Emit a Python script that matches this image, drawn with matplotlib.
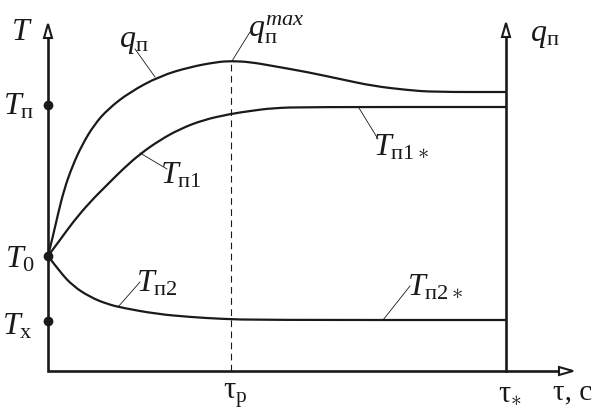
import matplotlib
matplotlib.use("Agg")
import matplotlib.pyplot as plt
from matplotlib.patches import Polygon, PathPatch
from matplotlib.path import Path

plt.rcParams["mathtext.fontset"] = "custom"
plt.rcParams["mathtext.rm"] = "Liberation Serif"
plt.rcParams["mathtext.it"] = "Liberation Serif:italic"
plt.rcParams["mathtext.bf"] = "Liberation Serif:bold"
plt.rcParams["font.family"] = ["Liberation Serif", "DejaVu Serif"]

# characteristic times
tau_p = 183
tau_star = 458
tau_end = 525

# temperature levels on the left axis
T_hot = 266
T_0 = 115
T_x = 50
T_top = 347

# heat flux q_п(τ)
q_tau = [0, 5, 10, 16, 24, 34, 46, 60, 82, 112, 142, 169, 183, 202, 225,
         259, 292, 325, 359, 385, 458]
q_val = [115, 135, 157, 181, 204, 226, 246, 262, 279, 295, 304, 309, 310,
         309, 305, 299, 292, 285, 281, 279, 279]

# temperature T_п1(τ)
t1_tau = [0, 12, 25, 42, 59, 75, 92, 112, 132, 155, 182, 202, 225, 259, 458]
t1_val = [115, 131, 149, 169, 186, 202, 217, 231, 242, 251, 257, 260, 263,
          264, 264]

# temperature T_п2(τ)
t2_tau = [0, 12, 25, 42, 59, 75, 109, 142, 175, 212, 458]
t2_val = [115, 99, 85, 74, 67, 63, 57, 54, 52, 51, 51]

fig = plt.figure(figsize=(5.95, 4.14), dpi=100)
ax = fig.add_axes([0, 0, 1, 1])
ax.set_xlim(-48, 547)
ax.set_ylim(-42, 372)
ax.axis("off")

K = "#1a1a1a"
axis_lw = 1.9
curve_lw = 1.6
lead_lw = 0.6
head_h = 14
head_w = 4


def smooth_curve(xs, ys, **kw):
    """Draw a smooth quadratic-Bezier curve guided by the given points."""
    pts = list(zip(xs, ys))
    verts = [pts[0]]
    codes = [Path.MOVETO]
    for i in range(1, len(pts) - 1):
        mid = ((pts[i][0] + pts[i + 1][0]) / 2, (pts[i][1] + pts[i + 1][1]) / 2)
        verts += [pts[i], mid]
        codes += [Path.CURVE3, Path.CURVE3]
    verts.append(pts[-1])
    codes.append(Path.LINETO)
    ax.add_patch(PathPatch(Path(verts, codes), fill=False, **kw))


# axes: left T axis and bottom τ axis joined at the origin
ax.plot([0, 0, tau_end - head_h - 1], [T_top - head_h, 0, 0], color=K,
        lw=axis_lw, solid_joinstyle="miter", zorder=3)
# right q axis
ax.plot([tau_star, tau_star], [0, T_top - head_h], color=K, lw=axis_lw, zorder=3)


def head_up(x, tip):
    ax.add_patch(Polygon([[x - head_w, tip - head_h], [x + head_w, tip - head_h],
                          [x, tip]], closed=True, fc="white", ec=K, lw=1.5,
                         zorder=4))


head_up(0, T_top)
head_up(tau_star, T_top + 1)
ax.add_patch(Polygon([[tau_end - head_h, -head_w], [tau_end - head_h, head_w],
                      [tau_end, 0]], closed=True, fc="white", ec=K, lw=1.5,
                     zorder=4))

# dashed marker of the flux maximum
ax.plot([tau_p, tau_p], [0, max(q_val)], color=K, lw=0.8,
        dashes=(6, 4), zorder=2)

# curves
for xs, ys in ((q_tau, q_val), (t1_tau, t1_val), (t2_tau, t2_val)):
    smooth_curve(xs, ys, ec=K, lw=curve_lw, zorder=3, capstyle="butt")

# level dots
ax.plot([0, 0, 0], [T_hot, T_0, T_x], "o", color=K, ms=6, zorder=5)

fs = 23


def lab(x, y, s, size=fs):
    ax.text(x, y, s, fontsize=size, ha="center", va="center", color=K)


def lead(x0, y0, x1, y1):
    ax.plot([x0, x1], [y0, y1], color=K, lw=lead_lw, zorder=2)


# axis names and levels
lab(-26, 339, r"$T$")
lab(-29, 265, r"$T_{\mathrm{п}}$")
lab(-28, 112, r"$T_{\mathrm{0}}$")
lab(-31, 45, r"$T_{\mathrm{x}}$")
lab(497, 336, r"$q_{\mathrm{п}}$")

# curve labels with leader lines
lab(86, 331, r"$q_{\mathrm{п}}$")
lead(87, 322, 107, 294)
lab(228, 342, r"$q_{\mathrm{п}}^{max}$")
lead(202, 339, 184, 310)
lab(133, 196, r"$T_{\mathrm{п1}}$")
lead(92, 218, 119, 202)
lab(353, 224, r"$T_{\mathrm{п1}\ast}$")
lead(311, 263, 330, 232)
lab(109, 88, r"$T_{\mathrm{п2}}$")
lead(70, 64, 92, 89)
lab(387, 84, r"$T_{\mathrm{п2}\ast}$")
lead(335, 51, 362, 85)

# time labels
lab(187, -24, r"$\mathrm{τ}_{\mathrm{р}}$", 22)
lab(462, -22, r"$\mathrm{τ}_{\ast}$", 22)
lab(525, -20, "τ, с", 21)

fig.savefig("out.png", dpi=100)
